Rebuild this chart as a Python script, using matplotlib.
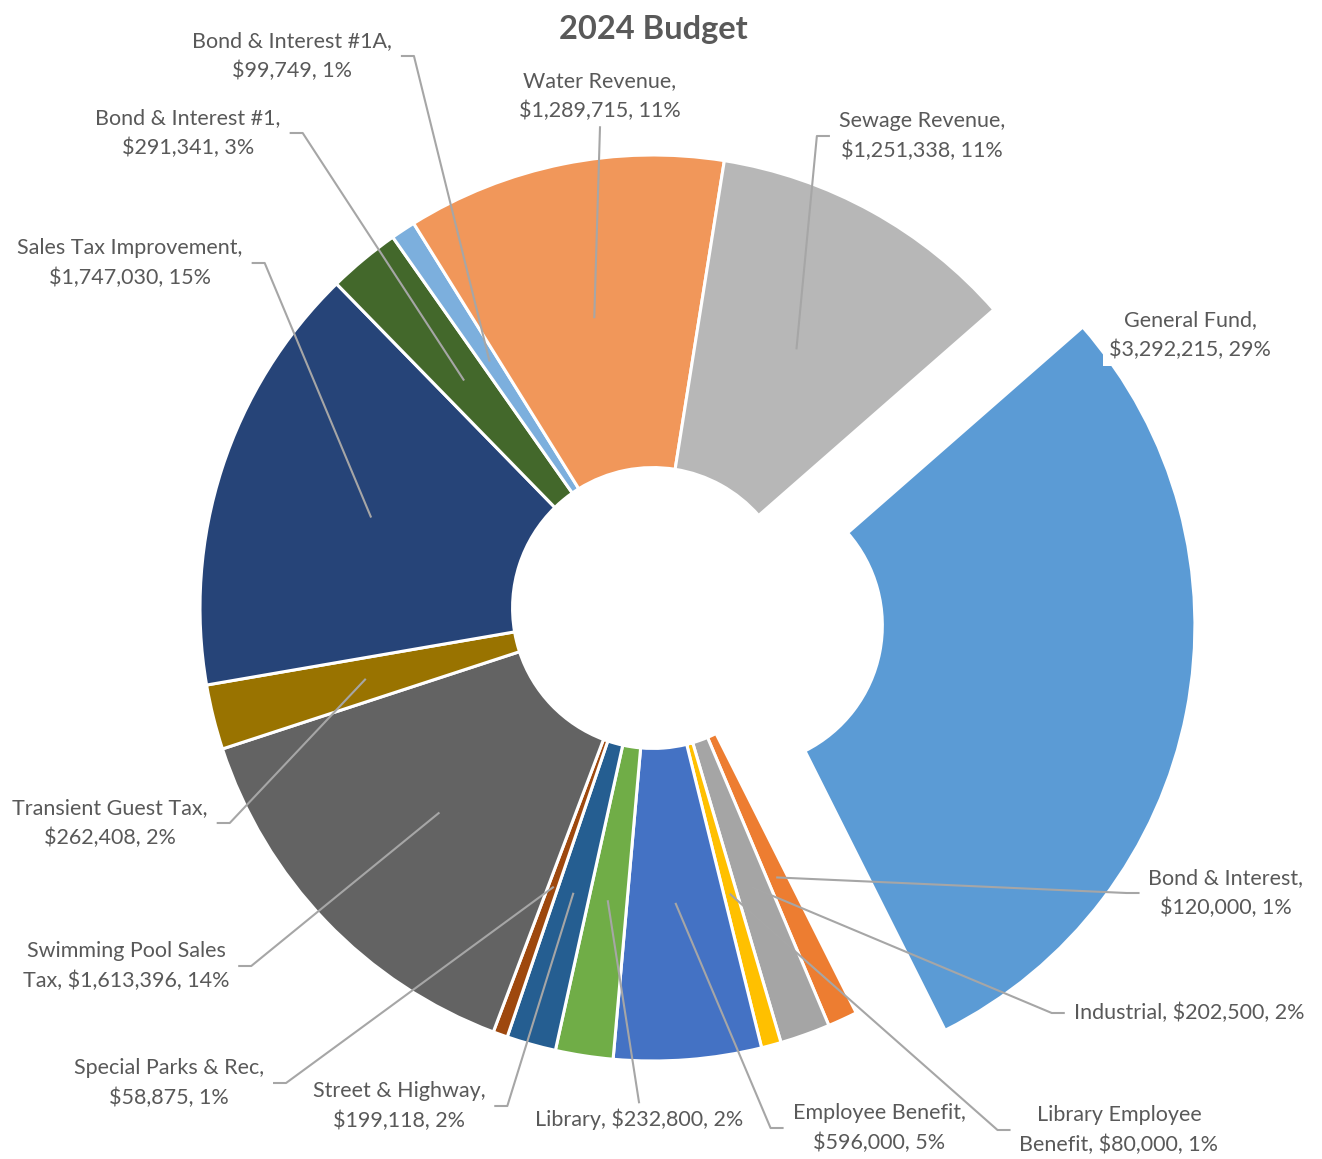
import numpy as np
import matplotlib.pyplot as plt

plt.rcParams['font.family'] = ['Lato', 'DejaVu Sans']

# slices in clockwise order, starting with General Fund
names = ["General Fund", "Bond & Interest", "Industrial", "Library Employee\nBenefit",
         "Employee Benefit", "Library", "Street & Highway", "Special Parks & Rec",
         "Swimming Pool Sales\nTax", "Transient Guest Tax", "Sales Tax Improvement",
         "Bond & Interest #1", "Bond & Interest #1A", "Water Revenue", "Sewage Revenue"]
values = [3292215, 120000, 202500, 80000, 596000, 232800, 199118, 58875,
          1613396, 262408, 1747030, 291341, 99749, 1289715, 1251338]
# line break after the name?
wrap = [True, True, False, False, True, False, True, True,
        False, True, True, True, True, True, True]

colors = ["#5B9BD5", "#ED7D31", "#A5A5A5", "#FFC000", "#4472C4", "#70AD47", "#255E91",
          "#9E480E", "#636363", "#997300", "#264478", "#43682B", "#7CAFDD", "#F1975A", "#B7B7B7"]
explode = [0.2] + [0] * 14

# label layout (pixel centres in the image) and which side the leader leaves from
label_pos = [(1190, 335), (1226, 893), (1189, 1013), (1119, 1130), (879, 1128),
             (639, 1119), (399, 1106), (169, 1083), (126, 966), (110, 823),
             (130, 263), (188, 133), (292, 56), (600, 96), (922, 136)]
label_side = [None, 'l', 'l', 'l', 'l', 't', 'r', 'r', 'r', 'r', 'r', 'r', 'r', 'b', 'l']

W, H = 1322, 1159
cx, cy, R = 653, 608, 453
hole = 0.31
txt_col = '#595959'
line_col = '#A6A6A6'


def px(x, y):
    return (x - cx) / R, (cy - y) / R


fig = plt.figure(figsize=(W / 100, H / 100), dpi=100)
ax = fig.add_axes([0, 0, 1, 1])

wedges, _ = ax.pie(values, colors=colors, explode=explode, startangle=41.2,
                   counterclock=False, radius=1,
                   wedgeprops=dict(width=1 - hole, edgecolor='white', linewidth=2.2))
ax.set_xlim(-cx / R, (W - cx) / R)
ax.set_ylim(-(H - cy) / R, cy / R)
ax.axis('off')

total = sum(values)
renderer = fig.canvas.get_renderer()
inv = ax.transData.inverted()
rmid = (1 + hole) / 2

for i, w in enumerate(wedges):
    pct = round(values[i] / total * 100)
    sep = ",\n" if wrap[i] else ", "
    label = f"{names[i]}{sep}${values[i]:,}, {pct}%"
    x, y = px(*label_pos[i])
    kw = {}
    if i == 0:
        kw['bbox'] = dict(facecolor='white', edgecolor='none', pad=4)
    t = ax.text(x, y, label, ha='center', va='center', fontsize=15.5, color=txt_col,
                linespacing=1.62, multialignment='center', zorder=5, **kw)
    side = label_side[i]
    if side is None:
        continue
    bb = t.get_window_extent(renderer)
    ym = (bb.y0 + bb.y1) / 2
    xm = (bb.x0 + bb.x1) / 2
    if side == 'r':
        pts = [(bb.x1 + 10, ym), (bb.x1 + 22, ym)]
    elif side == 'l':
        pts = [(bb.x0 - 10, ym), (bb.x0 - 22, ym)]
    elif side == 't':
        pts = [(xm, bb.y1 + 6)]
    else:
        pts = [(xm, bb.y0 - 6)]
    pts = [tuple(p) for p in inv.transform(pts)]
    mid = np.deg2rad((w.theta1 + w.theta2) / 2)
    pts.append((w.center[0] + rmid * np.cos(mid), w.center[1] + rmid * np.sin(mid)))
    xs, ys = zip(*pts)
    ax.plot(xs, ys, color=line_col, lw=1.5, zorder=4)

ax.text(*px(653, 30), "2024 Budget", ha='center', va='center', fontsize=23.5,
        fontweight='bold', color=txt_col)

fig.savefig('out.png', dpi=100)
